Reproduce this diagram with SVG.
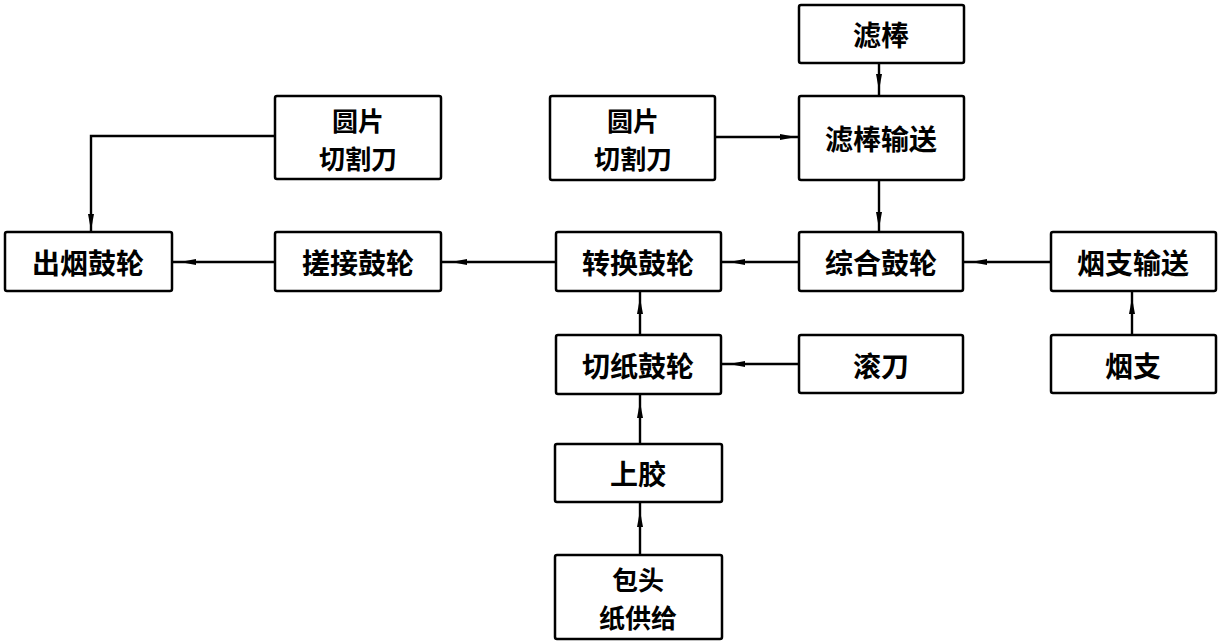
<svg xmlns="http://www.w3.org/2000/svg" width="1221" height="644" viewBox="0 0 1221 644">
<style>
.box{fill:#fff;stroke:#000;stroke-width:2.5}
.lbl{font-family:"Noto Sans CJK SC","Noto Sans CJK JP",sans-serif;font-size:28px;font-weight:700;fill:#000;text-anchor:middle;dominant-baseline:central}
.l2{font-size:26px}
.con{fill:none;stroke:#000;stroke-width:2.4}
</style>
<defs>
<marker id="ah" viewBox="0 0 12 8" refX="12" refY="4" markerWidth="12" markerHeight="8" markerUnits="userSpaceOnUse" orient="auto">
<path d="M0,1 L12,3.2 L12,4.8 L0,7 z" fill="#000"/>
</marker>
</defs>
<rect width="1221" height="644" fill="#fff"/>
<g id="connectors">
<path class="con" d="M879,63 L879,86 L879,96" marker-mid="url(#ah)"/>
<path class="con" d="M715,137 L792,137 L799,137" marker-mid="url(#ah)"/>
<path class="con" d="M879,180 L879,224 L879,232" marker-mid="url(#ah)"/>
<path class="con" d="M275,136 L91,136 L91,150"/>
<path class="con" d="M91,150 L91,226 L91,232" marker-mid="url(#ah)"/>
<path class="con" d="M1051,262 L975,262 L963,262" marker-mid="url(#ah)"/>
<path class="con" d="M799,262 L733,262 L721,262" marker-mid="url(#ah)"/>
<path class="con" d="M556,262 L455,262 L442,262" marker-mid="url(#ah)"/>
<path class="con" d="M275,262 L184,262 L172,262" marker-mid="url(#ah)"/>
<path class="con" d="M1132,335 L1132,302 L1132,291" marker-mid="url(#ah)"/>
<path class="con" d="M799,364 L733,364 L721,364" marker-mid="url(#ah)"/>
<path class="con" d="M640,335 L640,302 L640,291" marker-mid="url(#ah)"/>
<path class="con" d="M640,444 L640,406 L640,394" marker-mid="url(#ah)"/>
<path class="con" d="M640,555 L640,515 L640,502" marker-mid="url(#ah)"/>
</g>
<g id="lvbang"><rect class="box" x="799" y="5" width="165" height="58" rx="2"/><text class="lbl" x="881" y="34">滤棒</text></g>
<g id="lvbang-shusong"><rect class="box" x="799" y="96" width="165" height="84" rx="2"/><text class="lbl" x="881" y="138">滤棒输送</text></g>
<g id="yuanpian-right"><rect class="box" x="550" y="96" width="165" height="84" rx="2"/><text class="lbl l2" x="633" y="119">圆片</text><text class="lbl l2" x="633" y="157">切割刀</text></g>
<g id="yuanpian-left"><rect class="box" x="275" y="96" width="166" height="83" rx="2"/><text class="lbl l2" x="358" y="119">圆片</text><text class="lbl l2" x="358" y="157">切割刀</text></g>
<g id="chuyan"><rect class="box" x="5" y="232" width="167" height="59" rx="2"/><text class="lbl" x="88" y="262">出烟鼓轮</text></g>
<g id="cuojie"><rect class="box" x="275" y="232" width="166" height="59" rx="2"/><text class="lbl" x="358" y="262">搓接鼓轮</text></g>
<g id="zhuanhuan"><rect class="box" x="556" y="232" width="165" height="59" rx="2"/><text class="lbl" x="638" y="262">转换鼓轮</text></g>
<g id="zonghe"><rect class="box" x="799" y="232" width="164" height="59" rx="2"/><text class="lbl" x="881" y="262">综合鼓轮</text></g>
<g id="yanzhi-shusong"><rect class="box" x="1051" y="232" width="165" height="59" rx="2"/><text class="lbl" x="1133" y="262">烟支输送</text></g>
<g id="qiezhi"><rect class="box" x="556" y="335" width="165" height="59" rx="2"/><text class="lbl" x="638" y="365">切纸鼓轮</text></g>
<g id="gundao"><rect class="box" x="799" y="335" width="164" height="58" rx="2"/><text class="lbl" x="881" y="365">滚刀</text></g>
<g id="yanzhi"><rect class="box" x="1051" y="335" width="165" height="58" rx="2"/><text class="lbl" x="1133" y="365">烟支</text></g>
<g id="shangjiao"><rect class="box" x="555" y="444" width="167" height="58" rx="2"/><text class="lbl" x="638" y="473">上胶</text></g>
<g id="baotouzhi"><rect class="box" x="555" y="555" width="167" height="84" rx="2"/><text class="lbl l2" x="638" y="578">包头</text><text class="lbl l2" x="638" y="616">纸供给</text></g>
</svg>
